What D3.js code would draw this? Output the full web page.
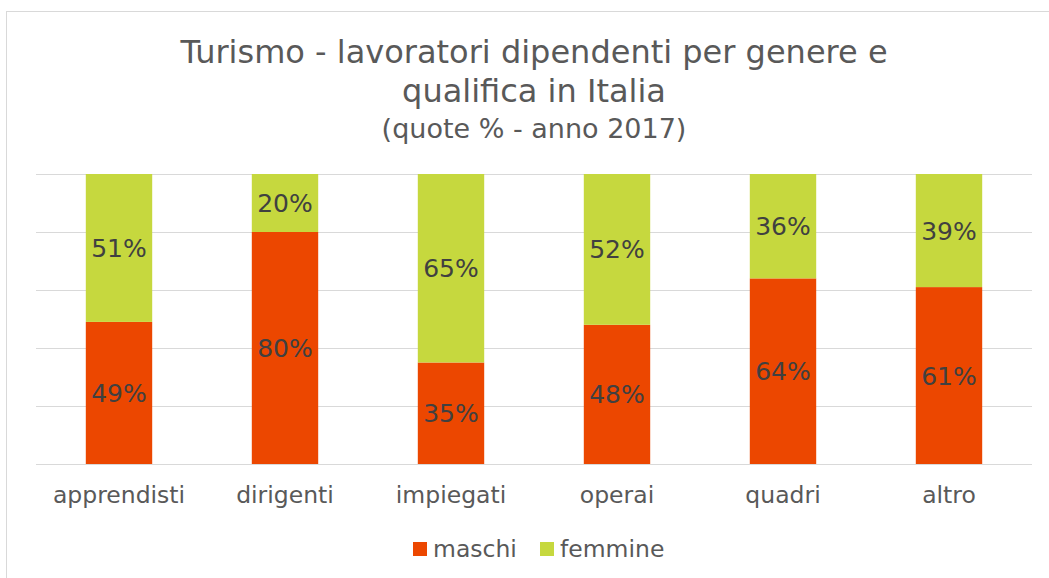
<!DOCTYPE html>
<html><head><meta charset="utf-8">
<script src="https://cdn.jsdelivr.net/npm/d3@7"></script>
<style>body{margin:0;background:#fff}svg{display:block;font-family:"DejaVu Sans",Verdana,sans-serif}</style>
</head><body>
<script>
const categories = ["apprendisti","dirigenti","impiegati","operai","quadri","altro"];
const maschi = [49,80,35,48,64,61];
const femmine = [51,20,65,52,36,39];
const seriesNames = ["maschi","femmine"];
const seriesColors = ["#EC4700","#C6D83E"];
const yTicks = [0,20,40,60,80,100];

const W=1049,H=578;
const svg=d3.select("body").append("svg").attr("width",W).attr("height",H);
svg.append("rect").attr("x",6.5).attr("y",11.5).attr("width",W+10).attr("height",H+10)
  .attr("fill","#fff").attr("stroke","#d9d9d9").attr("stroke-width",1);

const x=d3.scaleBand().domain(categories).range([36,1032]).paddingInner(0.6).paddingOuter(0.3);
const y=d3.scaleLinear().domain([0,100]).range([464,174]);

svg.append("g").selectAll("line").data(yTicks).join("line")
  .attr("x1",36).attr("x2",1032).attr("y1",d=>Math.round(y(d))+0.5).attr("y2",d=>Math.round(y(d))+0.5)
  .attr("stroke","#d9d9d9").attr("stroke-width",1);

const rows=categories.map((c,i)=>({cat:c,maschi:maschi[i],femmine:femmine[i]}));
const stack=d3.stack().keys(seriesNames)(rows);
const color=d3.scaleOrdinal().domain(seriesNames).range(seriesColors);

const g=svg.append("g");
stack.forEach(s=>{
  g.selectAll(null).data(s).join("rect")
   .attr("x",d=>x(d.data.cat)).attr("width",x.bandwidth())
   .attr("y",d=>y(d[1])).attr("height",d=>y(d[0])-y(d[1]))
   .attr("fill",color(s.key));
  g.selectAll(null).data(s).join("text")
   .attr("x",d=>x(d.data.cat)+x.bandwidth()/2).attr("y",d=>(y(d[0])+y(d[1]))/2)
   .attr("dy","0.36em").attr("text-anchor","middle").attr("font-size",25)
   .attr("fill","#404040").text(d=>(d[1]-d[0])+"%");
});

const xAxis=svg.append("g").attr("transform","translate(0,464)")
  .call(d3.axisBottom(x).tickSize(0).tickPadding(22));
xAxis.select(".domain").remove();
xAxis.selectAll("text").attr("font-size",23.5).attr("fill","#595959").attr("font-family","DejaVu Sans, Verdana, sans-serif");

const cx=(36+1032)/2;
svg.append("text").attr("x",cx).attr("y",63).attr("text-anchor","middle").attr("font-size",32).attr("fill","#595959")
  .text("Turismo - lavoratori dipendenti per genere e");
svg.append("text").attr("x",cx).attr("y",102).attr("text-anchor","middle").attr("font-size",32).attr("fill","#595959")
  .text("qualifica in Italia");
svg.append("text").attr("x",cx).attr("y",138).attr("text-anchor","middle").attr("font-size",27).attr("fill","#595959")
  .text("(quote % - anno 2017)");

const legend=svg.append("g");
const lx=[413,540];
seriesNames.forEach((n,i)=>{
  legend.append("rect").attr("x",lx[i]).attr("y",542).attr("width",14).attr("height",14).attr("fill",seriesColors[i]);
  legend.append("text").attr("x",lx[i]+20).attr("y",557).attr("font-size",23.5).attr("fill","#595959").text(n);
});
</script>
</body></html>
